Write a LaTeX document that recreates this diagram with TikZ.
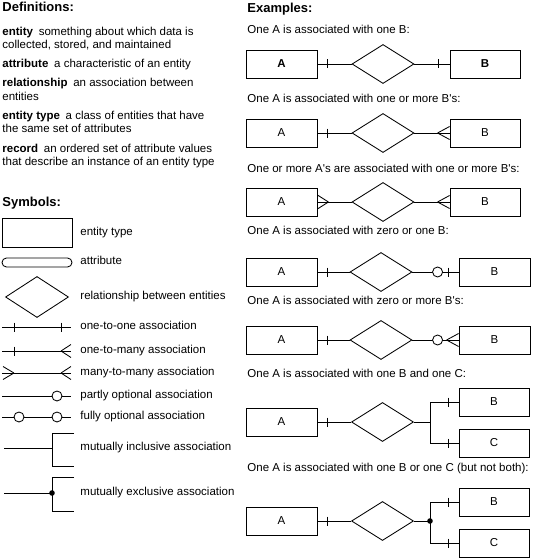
\documentclass[tikz,border=0pt]{standalone}
\usepackage{fontspec}
\setmainfont{Liberation Sans}
\usetikzlibrary{shapes.geometric}
\tikzset{
  lbl/.style={anchor=west, inner sep=0pt, font=\fontsize{11.5}{13}\selectfont, text height=8pt, text depth=2.5pt},
  hdr/.style={anchor=west, inner sep=0pt, font=\fontsize{13}{14}\selectfont\bfseries, text height=9pt, text depth=2.5pt},
  ent/.style={draw, rectangle, minimum width=71pt, minimum height=28pt, inner sep=0pt, font=\fontsize{11.5}{13}\selectfont},
  rel/.style={draw, diamond, minimum width=62pt, minimum height=39pt, inner sep=0pt},
  attr/.style={draw, rectangle, rounded corners=4.5pt, minimum width=70pt, minimum height=9pt, inner sep=0pt},
  every path/.style={line width=0.85pt},
}
\newcommand{\erTick}[1]{\draw #1 +(0,-4.5) -- +(0,4.5);}
\newcommand{\erCrowL}[1]{\draw ([xshift=-12pt]#1.west) -- ([yshift=6.5pt]#1.west) ([xshift=-12pt]#1.west) -- ([yshift=-6.5pt]#1.west);}
\newcommand{\erCrowR}[1]{\draw ([xshift=11pt]#1.east) -- ([yshift=7pt]#1.east) ([xshift=11pt]#1.east) -- ([yshift=-7pt]#1.east);}
\newcommand{\ap}{\textquotesingle}
\begin{document}
\begin{tikzpicture}[x=1pt,y=-1pt]
\useasboundingbox (0,0) rectangle (540,559);
% ---------------- Definitions
\node[hdr] (hdef) at (2,8) {Definitions:};
\node[lbl] (d1a) at (2,33) {\textbf{entity}\enspace something about which data is};
\node[lbl] (d1b) at (2,46) {collected, stored, and maintained};
\node[lbl] (d2a) at (2,65) {\textbf{attribute}\enspace a characteristic of an entity};
\node[lbl] (d3a) at (2,84) {\textbf{relationship}\enspace an association between};
\node[lbl] (d3b) at (2,98) {entities};
\node[lbl] (d4a) at (2,117) {\textbf{entity type}\enspace a class of entities that have};
\node[lbl] (d4b) at (2,130) {the same set of attributes};
\node[lbl] (d5a) at (2,150) {\textbf{record}\enspace an ordered set of attribute values};
\node[lbl] (d5b) at (2,163) {that describe an instance of an entity type};
% ---------------- Symbols
\node[hdr] (hsym) at (2,203) {Symbols:};
\node[draw, rectangle, minimum width=70pt, minimum height=29pt, inner sep=0pt] (se) at (37,232.5) {};
\node[lbl] (lse) at (80,233) {entity type};
\node[attr] (sa) at (37,262.5) {};
\node[lbl] (lsa) at (80,262) {attribute};
\node[rel, minimum width=63pt, minimum height=41pt] (sr) at (37,297) {};
\node[lbl] (lsr) at (80,297) {relationship between entities};
% one-to-one
\coordinate (o1a) at (2,327); \coordinate (o1b) at (71,327);
\draw (o1a) -- (o1b);
\erTick{(14,327)} \erTick{(61,327)}
\node[lbl] (l1) at (80,327) {one-to-one association};
% one-to-many
\coordinate (o2a) at (2,351); \coordinate (o2b) at (71,351);
\draw (o2a) -- (o2b);
\erTick{(14,351)}
\draw (61,351) -- (71,344.5) (61,351) -- (71,357.5);
\node[lbl] (l2) at (80,351) {one-to-many association};
% many-to-many
\coordinate (o3a) at (2,373); \coordinate (o3b) at (71,373);
\draw (o3a) -- (o3b);
\draw (14,373) -- (3,366.5) (14,373) -- (3,379.5);
\draw (61,373) -- (71,366.5) (61,373) -- (71,379.5);
\node[lbl] (l3) at (80,373) {many-to-many association};
% partly optional
\coordinate (o4a) at (2,396); \coordinate (o4b) at (71,396);
\draw (o4a) -- (o4b);
\draw[fill=white] (57,396) circle[radius=5pt];
\node[lbl] (l4) at (80,396) {partly optional association};
% fully optional
\coordinate (o5a) at (2,417); \coordinate (o5b) at (71,417);
\draw (o5a) -- (o5b);
\draw[fill=white] (19,417) circle[radius=5pt];
\draw[fill=white] (57,417) circle[radius=5pt];
\node[lbl] (l5) at (80,417) {fully optional association};
% mutually inclusive
\coordinate (mi) at (52,448);
\draw (4,448) -- (mi);
\draw (74,433) -- (52,433) -- (52,466) -- (74,466);
\node[lbl] (l6) at (80,448) {mutually inclusive association};
% mutually exclusive
\coordinate (me) at (52,493);
\draw (4,493) -- (me);
\draw (74,477) -- (52,477) -- (52,511) -- (74,511);
\fill (me) circle[radius=2.8pt];
\node[lbl] (l7) at (80,493) {mutually exclusive association};
% ---------------- Examples
\node[hdr] (hex) at (247,9) {Examples:};
% 1
\node[lbl] (e1) at (247,31) {One A is associated with one B:};
\node[ent] (A1) at (281.5,64) {\textbf{A}};
\node[rel] (D1) at (383,64) {};
\node[ent, minimum width=70pt] (B1) at (485,64) {\textbf{B}};
\draw (A1) -- (D1); \draw (D1) -- (B1);
\erTick{([xshift=10pt]A1.east)} \erTick{([xshift=-11pt]B1.west)}
% 2
\node[lbl] (e2) at (247,100) {One A is associated with one or more B\ap s:};
\node[ent] (A2) at (281.5,133) {A};
\node[rel] (D2) at (383,133) {};
\node[ent, minimum width=70pt] (B2) at (485,133) {B};
\draw (A2) -- (D2); \draw (D2) -- (B2);
\erTick{([xshift=10pt]A2.east)} \erCrowL{B2}
% 3
\node[lbl] (e3) at (247,170) {One or more A\ap s are associated with one or more B\ap s:};
\node[ent] (A3) at (281.5,202) {A};
\node[rel] (D3) at (383,202) {};
\node[ent, minimum width=70pt] (B3) at (485,202) {B};
\draw (A3) -- (D3); \draw (D3) -- (B3);
\erCrowR{A3} \erCrowL{B3}
% 4
\node[lbl] (e4) at (247,232) {One A is associated with zero or one B:};
\node[ent] (A4) at (281.5,272) {A};
\node[rel] (D4) at (381,272) {};
\node[ent] (B4) at (494.5,272) {B};
\draw (A4) -- (D4); \draw (D4) -- (B4);
\erTick{([xshift=10pt]A4.east)} \erTick{([xshift=-10pt]B4.west)}
\draw[fill=white] ([xshift=-21pt]B4.west) circle[radius=5pt];
% 5
\node[lbl] (e5) at (247,302) {One A is associated with zero or more B\ap s:};
\node[ent] (A5) at (281.5,340) {A};
\node[rel] (D5) at (381,340) {};
\node[ent] (B5) at (494.5,340) {B};
\draw (A5) -- (D5); \draw (D5) -- (B5);
\erTick{([xshift=10pt]A5.east)} \erCrowL{B5}
\draw[fill=white] ([xshift=-21pt]B5.west) circle[radius=5pt];
% 6
\node[lbl] (e6) at (247,375) {One A is associated with one B and one C:};
\node[ent] (A6) at (281.5,422) {A};
\node[rel] (D6) at (382.5,422) {};
\node[ent, minimum width=70pt] (B6) at (494,402) {B};
\node[ent, minimum width=70pt] (C6) at (494,443) {C};
\coordinate (J6) at (430,422);
\draw (A6) -- (D6); \draw (D6) -- (J6);
\draw (J6) |- (B6); \draw (J6) |- (C6);
\erTick{([xshift=10pt]A6.east)} \erTick{([xshift=-10pt]B6.west)} \erTick{([xshift=-10pt]C6.west)}
% 7
\node[lbl] (e7) at (247,469) {One A is associated with one B or one C (but not both):};
\node[ent] (A7) at (281.5,521) {A};
\node[rel] (D7) at (382.5,521) {};
\node[ent, minimum width=70pt] (B7) at (494,502) {B};
\node[ent, minimum width=70pt] (C7) at (494,543) {C};
\coordinate (J7) at (430,521);
\draw (A7) -- (D7); \draw (D7) -- (J7);
\draw (J7) |- (B7); \draw (J7) |- (C7);
\fill (J7) circle[radius=2.8pt];
\erTick{([xshift=10pt]A7.east)} \erTick{([xshift=-10pt]B7.west)} \erTick{([xshift=-10pt]C7.west)}
\end{tikzpicture}
\end{document}
